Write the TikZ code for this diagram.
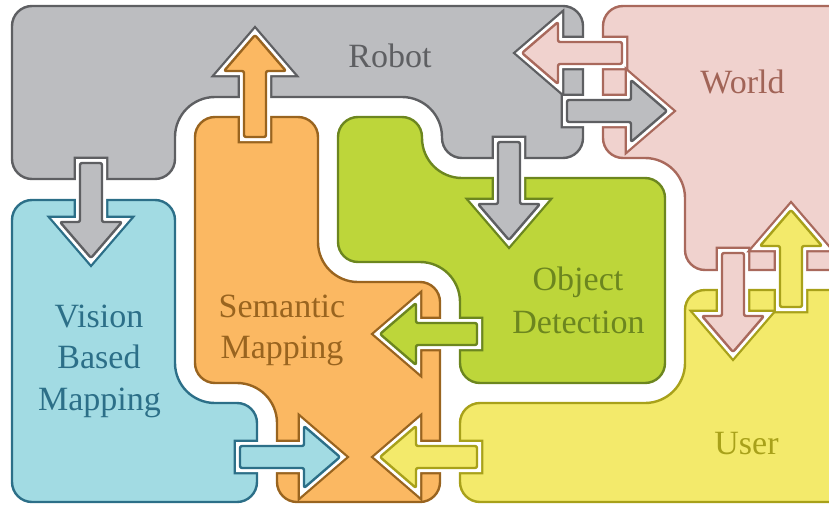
\documentclass[tikz,border=0pt]{standalone}
\usepackage{fontspec}
\setmainfont{Liberation Serif}

\definecolor{robotfill}{HTML}{BCBDC0}
\definecolor{robotline}{HTML}{5E5F62}
\definecolor{worldfill}{HTML}{F0D2CE}
\definecolor{worldline}{HTML}{A9695C}
\definecolor{visionfill}{HTML}{A2DBE3}
\definecolor{visionline}{HTML}{2C6F88}
\definecolor{semfill}{HTML}{FBB862}
\definecolor{semline}{HTML}{99641F}
\definecolor{objfill}{HTML}{BDD63A}
\definecolor{objline}{HTML}{6C861F}
\definecolor{userfill}{HTML}{F3EA6B}
\definecolor{userline}{HTML}{A8A11A}

% Outlines of the six regions (pixel grid, y grows downwards);
% the corner radius in force when a corner point is reached is the one used there
\newcommand\robotshape{[rounded corners=20pt] (300,6) -- (583,6) -- (583,158) -- (442,158)
  [rounded corners=40pt] -- (442,97) -- (175,97) [rounded corners=20pt] -- (175,179) -- (12,179) -- (12,6) -- cycle}
\newcommand\worldshape{[rounded corners=20pt] (700,6) -- (850,6) -- (850,270) -- (685,270)
  [rounded corners=40pt] -- (685,158) [rounded corners=20pt] -- (603,158) -- (603,6) -- cycle}
\newcommand\visionshape{[rounded corners=20pt] (90,200) -- (175,200)
  [rounded corners=40pt] -- (175,403) [rounded corners=20pt] -- (257,403) -- (257,502) -- (12,502) -- (12,200) -- cycle}
\newcommand\semshape{[rounded corners=20pt] (250,117) -- (318,117)
  [rounded corners=40pt] -- (318,282) [rounded corners=20pt] -- (440,282) -- (440,502) -- (277,502)
  [rounded corners=40pt] -- (277,383) [rounded corners=20pt] -- (195,383) -- (195,117) -- cycle}
\newcommand\objshape{[rounded corners=20pt] (380,117) -- (422,117)
  [rounded corners=40pt] -- (422,178) [rounded corners=20pt] -- (665,178) -- (665,383) -- (460,383)
  [rounded corners=40pt] -- (460,262) [rounded corners=20pt] -- (338,262) -- (338,117) -- cycle}
\newcommand\usershape{[rounded corners=20pt] (760,290) -- (850,290) -- (850,502) -- (460,502) -- (460,403)
  [rounded corners=40pt] -- (685,403) [rounded corners=20pt] -- (685,290) -- cycle}

% Block arrow pointing along +x, shaft starting at the origin
\newcommand\arrowoutline[1]{(0,-11) -- ({#1-36},-11) -- ({#1-36},-31) -- (#1,0) -- ({#1-36},31) -- ({#1-36},11) -- (0,11) -- cycle}

% Cut-out around an arrow: x, y, angle, length, source shape, source line, target shape, target line
\newcommand\linkhalo[8]{%
  \begin{scope}
    \clip #5;
    \draw[halo,#6,shift={(#1,#2)},rotate=#3] \arrowoutline{#4};
  \end{scope}
  \begin{scope}
    \clip #7;
    \draw[halo,#8,shift={(#1,#2)},rotate=#3] \arrowoutline{#4};
  \end{scope}
  \draw[gapband,shift={(#1,#2)},rotate=#3] \arrowoutline{#4};
}
% Arrow body: x, y, angle, length, fill, line
\newcommand\linkbody[6]{%
  \draw[arrowbody,fill=#5,draw=#6,shift={(#1,#2)},rotate=#3] \arrowoutline{#4};
}

\begin{document}
\begin{tikzpicture}[x=1pt,y=-1pt,
  region/.style={line width=2.4pt,line join=round},
  halo/.style={line width=12.6pt,line join=miter},
  gapband/.style={line width=8pt,line join=miter,draw=white},
  arrowbody/.style={line width=2.4pt,line join=round,rounded corners=2pt},
  label/.style={inner sep=0pt,anchor=base,font=\fontsize{34}{41}\selectfont},
]
\useasboundingbox (0,0) rectangle (829,506);
\clip (0,0) rectangle (829,506);

% regions
\draw[region,fill=robotfill,draw=robotline] \robotshape;
\draw[region,fill=worldfill,draw=worldline] \worldshape;
\draw[region,fill=visionfill,draw=visionline] \visionshape;
\draw[region,fill=semfill,draw=semline] \semshape;
\draw[region,fill=objfill,draw=objline] \objshape;
\draw[region,fill=userfill,draw=userline] \usershape;

% cut-outs around the arrows
\linkhalo{91}{163}{-90}{95}{\robotshape}{robotline}{\visionshape}{visionline}
\linkhalo{255}{137}{90}{102}{\semshape}{semline}{\robotshape}{robotline}
\linkhalo{622}{53}{180}{100}{\worldshape}{worldline}{\robotshape}{robotline}
\linkhalo{567}{111}{0}{100}{\robotshape}{robotline}{\worldshape}{worldline}
\linkhalo{509}{142}{-90}{98}{\robotshape}{robotline}{\objshape}{objline}
\linkhalo{477}{334}{180}{97}{\objshape}{objline}{\semshape}{semline}
\linkhalo{240}{457}{0}{100}{\visionshape}{visionline}{\semshape}{semline}
\linkhalo{477}{457}{180}{97}{\usershape}{userline}{\semshape}{semline}
\linkhalo{733}{253}{-90}{99}{\worldshape}{worldline}{\usershape}{userline}
\linkhalo{791}{307}{90}{97}{\usershape}{userline}{\worldshape}{worldline}

% arrows
\linkbody{91}{163}{-90}{95}{robotfill}{robotline}
\linkbody{255}{137}{90}{102}{semfill}{semline}
\linkbody{622}{53}{180}{100}{worldfill}{worldline}
\linkbody{567}{111}{0}{100}{robotfill}{robotline}
\linkbody{509}{142}{-90}{98}{robotfill}{robotline}
\linkbody{477}{334}{180}{97}{objfill}{objline}
\linkbody{240}{457}{0}{100}{visionfill}{visionline}
\linkbody{477}{457}{180}{97}{userfill}{userline}
\linkbody{733}{253}{-90}{99}{worldfill}{worldline}
\linkbody{791}{307}{90}{97}{userfill}{userline}

% labels
\node[label,text=robotline] (robot) at (390,67) {Robot};
\node[label,text=worldline!95!black] (world) at (742.5,93) {World};
\node[label,text=visionline] (vision1) at (99,327) {Vision};
\node[label,text=visionline] (vision2) at (99,368) {Based};
\node[label,text=visionline] (vision3) at (99.5,410) {Mapping};
\node[label,text=semline] (sem1) at (282,317) {Semantic};
\node[label,text=semline] (sem2) at (282,358) {Mapping};
\node[label,text=objline] (obj1) at (578,290) {Object};
\node[label,text=objline] (obj2) at (578.5,333) {Detection};
\node[label,text=userline] (user) at (746.5,454) {User};
\end{tikzpicture}
\end{document}
